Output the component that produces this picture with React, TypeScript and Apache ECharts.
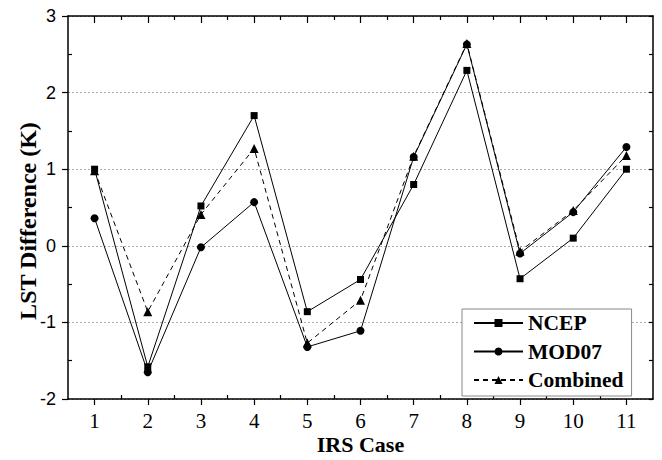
import React, { useEffect, useRef } from "react";
import * as echarts from "echarts";

const cases = [1, 2, 3, 4, 5, 6, 7, 8, 9, 10, 11];
const ncep = [1.0, -1.58, 0.52, 1.7, -0.86, -0.44, 0.8, 2.29, -0.43, 0.1, 1.0];
const mod07 = [0.36, -1.65, -0.02, 0.57, -1.32, -1.11, 1.16, 2.63, -0.1, 0.44, 1.29];
const combined = [0.98, -0.86, 0.41, 1.27, -1.27, -0.71, 1.17, 2.64, -0.07, 0.46, 1.18];
const xMinor = [1.5, 2.5, 3.5, 4.5, 5.5, 6.5, 7.5, 8.5, 9.5, 10.5];
const yMinor = [-1.5, -0.5, 0.5, 1.5, 2.5];
const yTitle = "LST Difference (K)";
const xTitle = "IRS Case";

const serif = "Liberation Serif";
const sans = "Liberation Sans";

export default function App() {
  const ref = useRef<HTMLDivElement>(null);
  useEffect(() => {
    if (!ref.current) return;
    const chart = echarts.init(ref.current, null, { renderer: "svg" });
    const axisLine = { show: true, onZero: false, lineStyle: { color: "#000", width: 1.5 } };
    const noLine = { show: false, onZero: false };
    const tickStyle = { color: "#000", width: 1.2 };
    const pairs = (arr: number[]) => cases.map((c, i) => [c, arr[i]]);
    chart.setOption({
      animation: false,
      backgroundColor: "#fff",
      grid: { left: 68, right: 9, top: 16, bottom: 59, containLabel: false },
      graphic: [
        {
          type: "text", x: 28, y: 221, rotation: Math.PI / 2,
          style: {
            text: yTitle, fontFamily: serif, fontWeight: "bold", fontSize: 24, fill: "#000",
            align: "center", verticalAlign: "middle",
          },
        },
      ],
      xAxis: [
        {
          type: "value", position: "bottom", min: 0.5, max: 11.5,
          axisLine,
          axisTick: { show: true, inside: false, length: 6, customValues: cases, lineStyle: tickStyle },
          axisLabel: { customValues: cases, color: "#000", fontFamily: serif, fontSize: 21, margin: 11 },
          splitLine: { show: false },
          name: xTitle, nameLocation: "middle", nameGap: 34, nameMoveOverlap: false,
          nameTextStyle: { fontFamily: serif, fontWeight: "bold", fontSize: 22, color: "#000" },
        },
        {
          type: "value", position: "top", min: 0.5, max: 11.5,
          axisLine,
          axisTick: { show: true, inside: true, length: 7, customValues: cases, lineStyle: tickStyle },
          axisLabel: { show: false },
          splitLine: { show: false },
        },
        {
          type: "value", position: "top", min: 0.5, max: 11.5,
          axisLine: noLine,
          axisTick: { show: true, inside: true, length: 4, customValues: xMinor, lineStyle: tickStyle },
          axisLabel: { show: false },
          splitLine: { show: false },
        },
        {
          type: "value", position: "bottom", min: 0.5, max: 11.5,
          axisLine: noLine,
          axisTick: { show: true, inside: true, length: 4, customValues: xMinor, lineStyle: tickStyle },
          axisLabel: { show: false },
          splitLine: { show: false },
        },
      ],
      yAxis: [
        {
          type: "value", position: "left", min: -2, max: 3, interval: 1,
          axisLine,
          axisTick: { show: true, inside: false, length: 6, lineStyle: tickStyle },
          axisLabel: { color: "#000", fontFamily: sans, fontSize: 18, margin: 12 },
          splitLine: { show: true, lineStyle: { color: "#aaa", type: [2, 2], width: 1 } },
        },
        {
          type: "value", position: "left", min: -2, max: 3,
          axisLine: noLine,
          axisTick: { show: true, inside: true, length: 4, customValues: yMinor, lineStyle: tickStyle },
          axisLabel: { show: false },
          splitLine: { show: false },
        },
        {
          type: "value", position: "right", min: -2, max: 3, interval: 0.5,
          axisLine,
          axisTick: { show: true, inside: true, length: 4, lineStyle: tickStyle },
          axisLabel: { show: false },
          splitLine: { show: false },
        },
      ],
      legend: {
        orient: "vertical", left: 462, top: 309,
        itemWidth: 49, itemHeight: 10, itemGap: 6.5,
        padding: [3, 8, 5, 11],
        borderColor: "#888", borderWidth: 1, backgroundColor: "#fff",
        textStyle: { fontFamily: serif, fontWeight: "bold", fontSize: 21.5, color: "#000" },
        data: ["NCEP", "MOD07", "Combined"],
      },
      series: [
        {
          name: "NCEP", type: "line", data: pairs(ncep), xAxisIndex: 0, yAxisIndex: 0,
          symbol: "rect", symbolSize: 7, color: "#000",
          lineStyle: { color: "#000", width: 1 }, itemStyle: { color: "#000" },
        },
        {
          name: "MOD07", type: "line", data: pairs(mod07), xAxisIndex: 0, yAxisIndex: 0,
          symbol: "circle", symbolSize: 8, color: "#000",
          lineStyle: { color: "#000", width: 1 }, itemStyle: { color: "#000" },
        },
        {
          name: "Combined", type: "line", data: pairs(combined), xAxisIndex: 0, yAxisIndex: 0,
          symbol: "triangle", symbolSize: 9, color: "#000",
          lineStyle: { color: "#000", width: 1, type: [5, 4] }, itemStyle: { color: "#000" },
        },
      ],
    });
    return () => chart.dispose();
  }, []);
  return <div ref={ref} style={{ width: 662, height: 460, position: "absolute", left: 0, top: 0 }} />;
}
